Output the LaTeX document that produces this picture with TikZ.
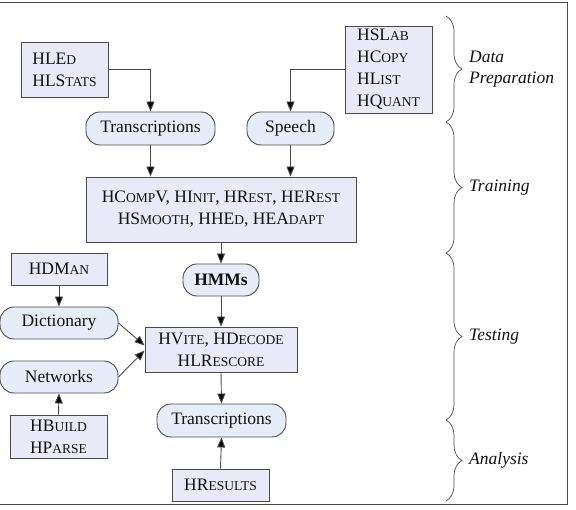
\documentclass[tikz,border=0pt]{standalone}
\usepackage{fontspec}
\setmainfont{Liberation Serif}
\usetikzlibrary{positioning, arrows.meta, decorations.pathreplacing}
\definecolor{color_tool}{HTML}{E9E9F7}
\definecolor{color_data}{HTML}{E7EDF8}
\definecolor{color_line}{HTML}{4A4A4A}
\definecolor{color_text}{HTML}{111111}
\newcommand{\fakesc}[1]{{\fontsize{13.5}{22}\selectfont #1}}
\tikzset{
  tool_box/.style={draw=color_line, line width=0.9pt, fill=color_tool, inner sep=0pt, text=color_text, font=\fontsize{17.5}{22}\selectfont},
  data_box/.style={draw=color_line, line width=0.9pt, fill=color_data, rounded corners=14pt, inner sep=0pt, minimum height=33pt, text=color_text, font=\fontsize{17.5}{22}\selectfont},
  flow_arrow/.style={-{Triangle[length=10pt, width=8pt, fill=black]}, draw=color_line, line width=0.9pt},
  stage_brace/.style={draw=color_line, line width=0.7pt, decorate, decoration={brace, amplitude=16pt}},
  stage_label/.style={anchor=west, inner sep=0pt, align=left, text=color_text, font=\fontsize{17.5}{21}\selectfont\itshape},
}
\begin{document}
\begin{tikzpicture}[x=1pt, y=1pt]
    \useasboundingbox (0,0) rectangle (576,510);
    \draw[color_line, line width=0.8pt] (-1,6) rectangle (567,508);

    % data preparation
    \node[tool_box, minimum width=87pt, minimum height=55pt, align=left] (hled) at (64.5,440.5) {HLE\fakesc{D}\\HLS\fakesc{TATS}};
    \node[tool_box, minimum width=87pt, minimum height=87pt, align=left] (hslab) at (388.5,440.5) {HSL\fakesc{AB}\\HC\fakesc{OPY}\\HL\fakesc{IST}\\HQ\fakesc{UANT}};
    \node[data_box, minimum width=129pt] (trans1) at (150.5,381.5) {Transcriptions};
    \node[data_box, minimum width=87pt] (speech) at (290.5,381.5) {Speech};

    % training
    \node[tool_box, minimum width=270pt, minimum height=65pt, align=center] (train) at (221,300.5) {HC\fakesc{OMP}V, HI\fakesc{NIT}, HR\fakesc{EST}, HER\fakesc{EST}\\HS\fakesc{MOOTH}, HHE\fakesc{D}, HEA\fakesc{DAPT}};
    \node[data_box, minimum width=76pt, minimum height=32pt] (hmms) at (221,230) {\textbf{HMMs}};

    % testing
    \node[tool_box, minimum width=96pt, minimum height=32pt] (hdman) at (59,241) {HDM\fakesc{AN}};
    \node[data_box, minimum width=118pt, minimum height=32pt] (dict) at (59,187) {Dictionary};
    \node[tool_box, minimum width=152pt, minimum height=45pt, align=center] (vite) at (221,160.5) {HV\fakesc{ITE}, HD\fakesc{ECODE}\\HLR\fakesc{ESCORE}};
    \node[data_box, minimum width=118pt, minimum height=32pt] (nets) at (59,133) {Networks};
    \node[tool_box, minimum width=97pt, minimum height=43pt, align=center] (hbuild) at (58.5,73.5) {HB\fakesc{UILD}\\HP\fakesc{ARSE}};

    % analysis
    \node[data_box, minimum width=129pt] (trans2) at (221.5,89.5) {Transcriptions};
    \node[tool_box, minimum width=97pt, minimum height=32pt] (hresults) at (220.5,25) {HR\fakesc{ESULTS}};

    \draw[flow_arrow] (hled.east) -| (trans1.north);
    \draw[flow_arrow] (hslab.west) -| (speech.north);
    \draw[flow_arrow] (trans1.south) -- (trans1.south |- train.north);
    \draw[flow_arrow] (speech.south) -- (speech.south |- train.north);
    \draw[flow_arrow] (train.south) -- (hmms.north);
    \draw[flow_arrow] (hmms.south) -- (vite.north);
    \draw[flow_arrow] (hdman.south) -- (dict.north);
    \draw[flow_arrow] (hbuild.north) -- (nets.south);
    \draw[flow_arrow] (dict.east) -- ([yshift=4pt]vite.west);
    \draw[flow_arrow] (nets.east) -- ([yshift=-1pt]vite.west);
    \draw[flow_arrow] (vite.south) -- (trans2.north);
    \draw[flow_arrow] (hresults.north) -- (trans2.south);

    % stages
    \draw[stage_brace] (446,494) -- (446,388);
    \draw[stage_brace] (446,388) -- (446,257);
    \draw[stage_brace] (446,257) -- (446,90);
    \draw[stage_brace] (446,90) -- (446,9);
    \node[stage_label] (lprep) at (469,440.5) {Data\\Preparation};
    \node[stage_label] (ltrain) at (469,322) {Training};
    \node[stage_label] (ltest) at (469,173.5) {Testing};
    \node[stage_label] (lanal) at (469,49.5) {Analysis};
\end{tikzpicture}
\end{document}
